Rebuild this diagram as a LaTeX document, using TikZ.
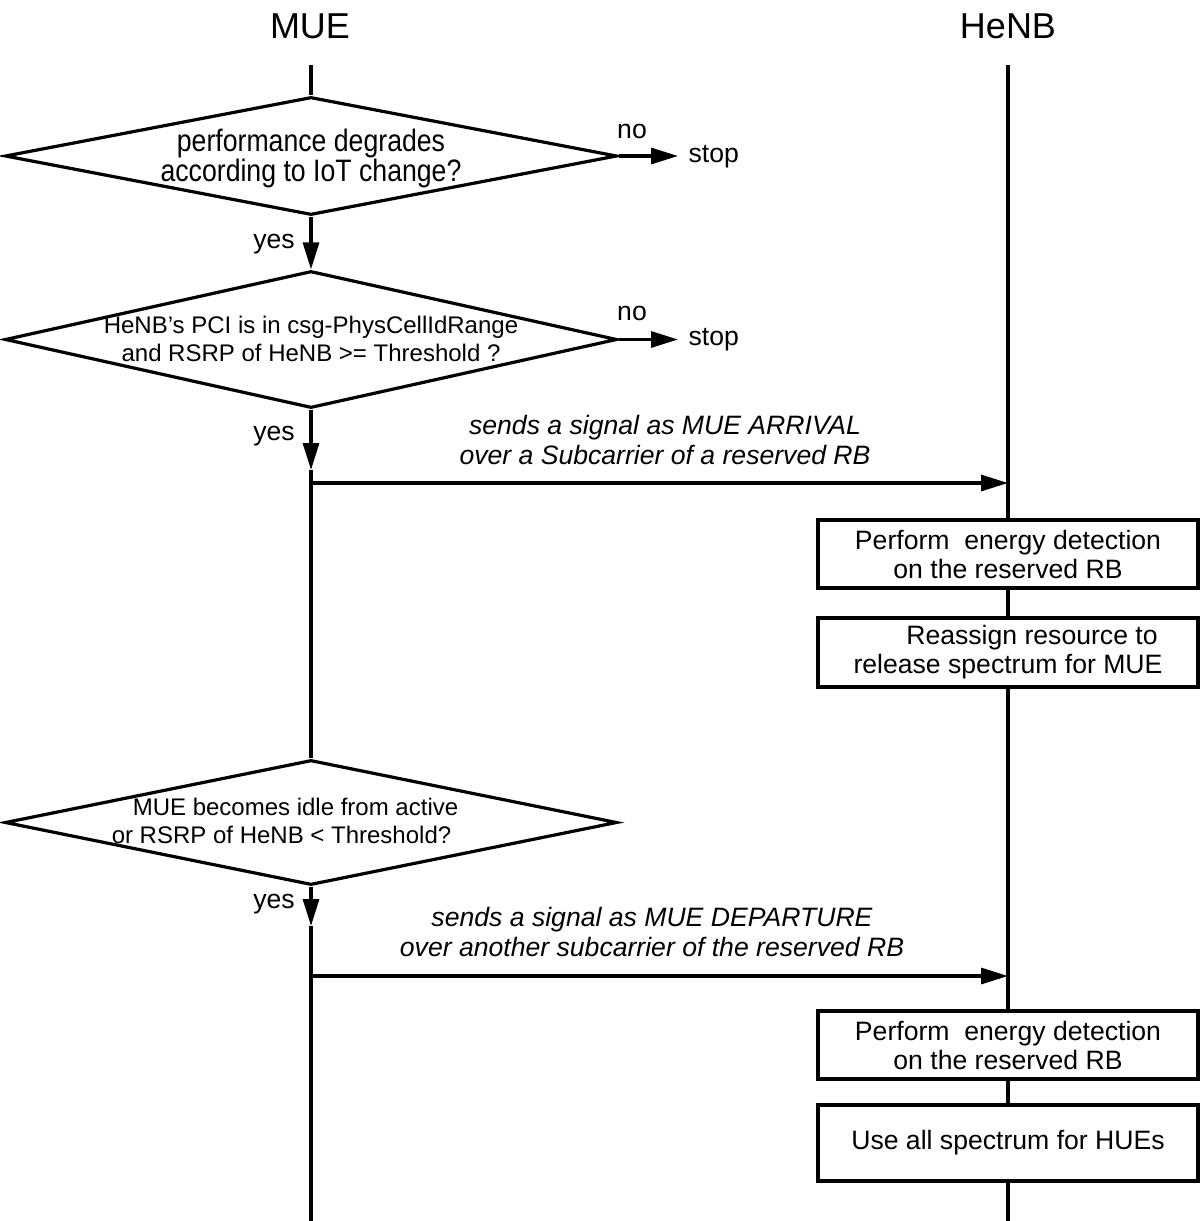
\documentclass[tikz,border=0pt]{standalone}
\usepackage{fontspec}
\setmainfont{Liberation Sans}
\newfontfamily\narrowfont[FakeStretch=0.86]{Liberation Sans}
\usetikzlibrary{shapes.geometric,arrows.meta}
\begin{document}
\begin{tikzpicture}[x=0.5pt,y=-0.5pt,line width=1.6pt,
  arr/.style={-{Triangle[length=13.5pt,width=8pt]}},
  dec/.style={shape=diamond,draw,inner sep=0pt,minimum width=306pt},
  dectext/.style={align=center,inner sep=0pt,font=\fontsize{12}{14}\selectfont},
  procbox/.style={draw,minimum width=190pt,align=center,inner sep=0pt,font=\fontsize{13.3}{14.5}\selectfont},
  txt/.style={inner sep=0pt,font=\fontsize{13.3}{14.5}\selectfont},
  msg/.style={align=center,inner sep=0pt,font=\fontsize{13.3}{15.25}\selectfont\itshape},
  head/.style={inner sep=0pt,font=\fontsize{18}{20}\selectfont}]
\useasboundingbox (0,0) rectangle (1200,1221);

% headers and lifeline ends
\node[head] (mue) at (310,26) {MUE};
\node[head] (henb) at (1008,26) {HeNB};
\coordinate (muetop) at (311,65);
\coordinate (henbtop) at (1008,65);
\coordinate (muebot) at (311,1221);
\coordinate (henbbot) at (1008,1221);

% decisions
\node[dec,minimum height=59pt] (d1) at (311,156) {};
\node[dectext,font=\narrowfont\fontsize{15.5}{15}\selectfont] (d1t) at (311,158) {performance degrades\\according to IoT change?};
\node[dec,minimum height=68.5pt] (d2) at (311,339.5) {};
\node[dectext] (d2t) at (311,339) {HeNB’s PCI is in csg-PhysCellIdRange\\and RSRP of HeNB >= Threshold ?};
\node[dec,minimum height=62.5pt] (d3) at (311,822.5) {};
\node[dectext] (d3t) at (311,820.5) {MUE becomes idle from active\makebox[15.5pt]{}\\or RSRP of HeNB < Threshold?\makebox[29.5pt]{}};

% no branches
\node[txt] (no1) at (632,131) {no};
\node[txt,inner sep=4.5pt,anchor=west] (s1) at (678,157) {stop};
\draw[arr] (d1.east) -- (d1.east -| s1.west);
\node[txt] (no2) at (632,313) {no};
\node[txt,inner sep=4.5pt,anchor=west] (s2) at (678,340) {stop};
\draw[arr] (d2.east) -- (d2.east -| s2.west);

% MUE lifeline with yes arrows
\coordinate (y2tip) at (311,470);
\coordinate (y3tip) at (311,926);
\draw (muetop) -- (d1.north);
\draw[arr] (d1.south) -- (d2.north);
\draw[arr] (d2.south) -- (y2tip);
\draw (y2tip) -- (d3.north);
\draw[arr] (d3.south) -- (y3tip);
\draw (y3tip) -- (muebot);
\node[txt] (yes1) at (274,244) {yes};
\node[txt] (yes2) at (274,436) {yes};
\node[txt] (yes3) at (274,904) {yes};

% HeNB processing boxes
\node[procbox,minimum height=34pt] (b1) at (1008,554) {Perform\ \ energy detection\\on the reserved RB};
\node[procbox,minimum height=34.5pt] (b2) at (1008,652.5) {\makebox[24pt]{}Reassign resource to\\release spectrum for MUE};
\node[procbox,minimum height=34pt] (b3) at (1008,1045) {Perform\ \ energy detection\\on the reserved RB};
\node[procbox,minimum height=38pt] (b4) at (1008,1143) {Use all spectrum for HUEs};
\draw (henbtop) -- (b1.north);
\draw (b1.south) -- (b2.north);
\draw (b2.south) -- (b3.north);
\draw (b3.south) -- (b4.north);
\draw (b4.south) -- (henbbot);

% messages
\coordinate (m1a) at (311,483);
\coordinate (m1b) at (1008,483);
\draw[arr] (m1a) -- (m1b);
\node[msg] (m1t) at (665,440) {sends a signal as MUE ARRIVAL\\over a Subcarrier of a reserved RB};
\coordinate (m2a) at (311,976);
\coordinate (m2b) at (1008,976);
\draw[arr] (m2a) -- (m2b);
\node[msg] (m2t) at (652,932) {sends a signal as MUE DEPARTURE\\over another subcarrier of the reserved RB};
\end{tikzpicture}
\end{document}
